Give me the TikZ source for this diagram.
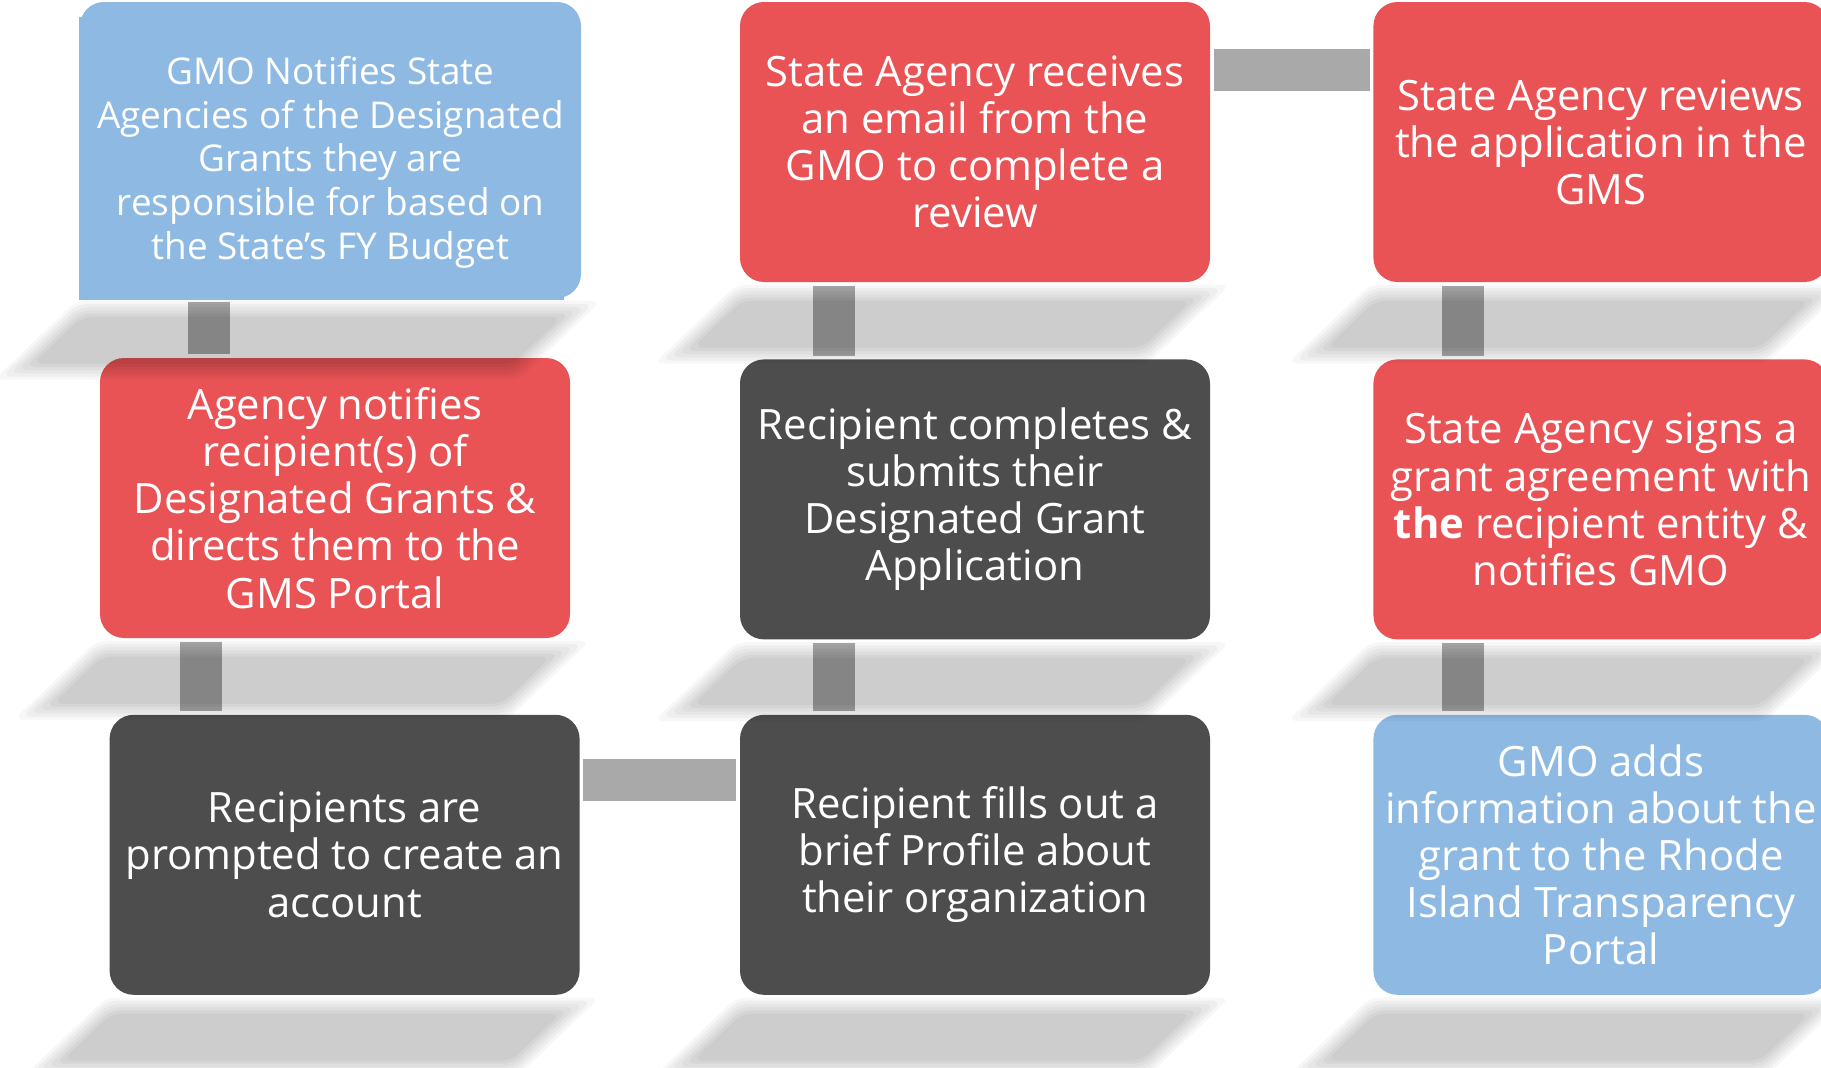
\documentclass[tikz,border=0pt]{standalone}
\usepackage{fontspec}
\setmainfont{Open Sans}
\usetikzlibrary{positioning,calc}

\definecolor{gmoblue}{RGB}{142,185,227}
\definecolor{agencyred}{RGB}{233,83,85}
\definecolor{recipientgray}{RGB}{77,77,77}
\definecolor{linkgray}{RGB}{169,169,169}

% soft slanted shadow under a card, built from a few stacked layers
\newcommand{\dropshadow}[1]{%
  \foreach \k in {1,...,6}{%
    \pgfmathsetmacro{\sdel}{-0.8+1.6*(\k-1)/5}%
    \pgfmathsetmacro{\sop}{1-(1-0.2*\k/6)/(1-0.2*(\k-1)/6)}%
    \pgfmathsetmacro{\stl}{0.35*\sdel}%
    \pgfmathsetmacro{\sty}{-1.0-\sdel}%
    \pgfmathsetmacro{\str}{-2.45*\sdel}%
    \pgfmathsetmacro{\sbr}{-6.6-0.35*\sdel}%
    \pgfmathsetmacro{\sby}{-7.3+\sdel}%
    \pgfmathsetmacro{\sbl}{-6.6+2.45*\sdel}%
    \fill[black, opacity=\sop, rounded corners=1mm]
      ($(#1.south west)+(\stl mm,\sty mm)$) -- ($(#1.south east)+(\str mm,\sty mm)$)
      -- ($(#1.south east)+(\sbr mm,\sby mm)$) -- ($(#1.south west)+(\sbl mm,\sby mm)$) -- cycle;
  }}

\begin{document}
\begin{tikzpicture}[x=0.1mm, y=-0.1mm, node distance=7.5mm,
    card/.style={rounded corners=2.4mm, minimum width=47mm, minimum height=28mm, inner sep=0pt,
      align=center, text=white, font=\fontsize{11.9}{13.4}\selectfont},
    gmo/.style={card, fill=gmoblue},
    agency/.style={card, fill=agencyred},
    recipient/.style={card, fill=recipientgray},
    link/.style={draw=linkgray, line width=4.2mm, shorten <=0.3mm, shorten >=0.3mm}]
  \useasboundingbox (0,0) rectangle (1821,1067);

  % first column
  \fill[gmoblue] (79,17) rectangle (564,300);
  \node[gmo, minimum width=50.1mm, minimum height=29.6mm, font=\fontsize{10.5}{12.4}\selectfont] (notify) at (330.5,150)
    {\rule{0pt}{15pt}GMO Notifies State\\Agencies of the Designated\\Grants they are\\responsible for based on\\the State’s FY Budget};
  \node[agency] (direct) at (335,498)
    {Agency notifies\\recipient(s) of\\Designated Grants \&\\directs them to the\\GMS Portal};

  % second column
  \node[agency] (email) at (975,142)
    {State Agency receives\\an email from the\\GMO to complete a\\review};
  \node[recipient, below=7.6mm of email] (submit)
    {Recipient completes \&\\submits their\\Designated Grant\\Application};
  \node[recipient, below=7.4mm of submit] (profile)
    {Recipient fills out a\\brief Profile about\\their organization};
  \node[recipient, left=15.9mm of profile] (account)
    {Recipients are\\prompted to create an\\account};

  % third column
  \node[agency, minimum width=45.5mm, right=16.2mm of email] (review)
    {State Agency reviews\\the application in the\\GMS};
  \node[agency, minimum width=45.5mm, below=7.6mm of review] (sign)
    {State Agency signs a\\grant agreement with\\\textbf{the} recipient entity \&\\notifies GMO};
  \node[gmo, minimum width=45.5mm, below=7.4mm of sign] (publish)
    {GMO adds\\information about the\\grant to the Rhode\\Island Transparency\\Portal};

  % connectors
  \draw[link] ([xshift=-12.2mm]notify.south) -- ($(notify.south |- direct.north)+(-12.2mm,0)$);
  \draw[link] ($(direct.south)+(-13.4mm,0)$) -- ($(direct.south |- account.north)+(-13.4mm,0)$);
  \draw[link] ([yshift=7.45mm]account.east) -- ([yshift=7.45mm]profile.west);
  \draw[link] ([xshift=-14.1mm]profile.north) -- ([xshift=-14.1mm]submit.south);
  \draw[link] ([xshift=-14.1mm]submit.north) -- ([xshift=-14.1mm]email.south);
  \draw[link] ([yshift=7.2mm]email.east) -- ([yshift=7.2mm]review.west);
  \draw[link] ([xshift=-13.75mm]review.south) -- ([xshift=-13.75mm]sign.north);
  \draw[link] ([xshift=-13.75mm]sign.south) -- ([xshift=-13.75mm]publish.north);

  % shadows
  \foreach \n in {notify,direct,account,email,submit,profile,review,sign,publish}
    \dropshadow{\n};
\end{tikzpicture}
\end{document}
